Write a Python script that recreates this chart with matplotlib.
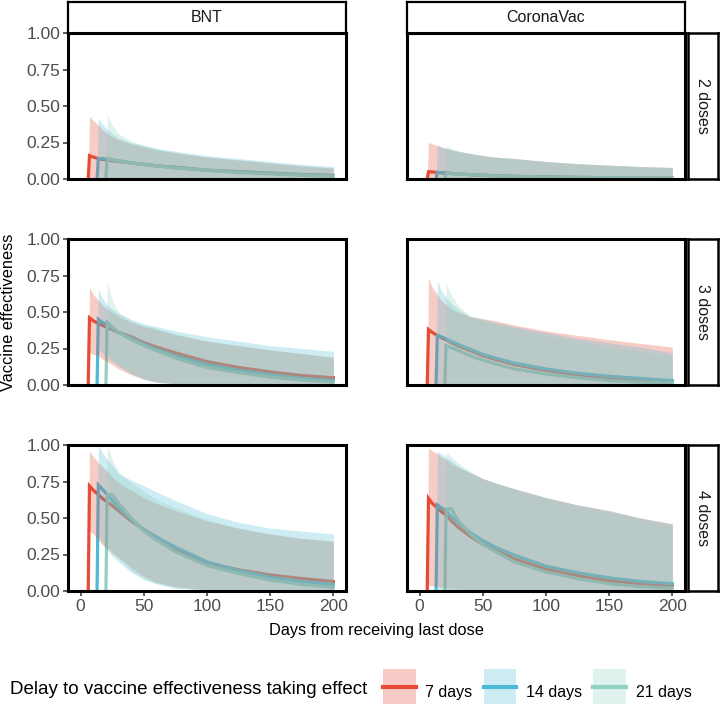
import numpy as np
import matplotlib
matplotlib.use('Agg')
import matplotlib.pyplot as plt
from matplotlib.patches import Patch, Rectangle
from matplotlib.lines import Line2D
from matplotlib.legend_handler import HandlerPatch

plt.rcParams['font.family'] = ['Liberation Sans', 'DejaVu Sans']

na = np.nan
days = [7, 10, 14, 17, 21, 25, 30, 40, 50, 60, 75, 100, 125, 150, 175, 200]
delays = [7, 14, 21]
delay_labels = ['7 days', '14 days', '21 days']
colors = ['#E64B35', '#4DBBD5', '#91D1C2']
vaccines = ['BNT', 'CoronaVac']
doses = ['2 doses', '3 doses', '4 doses']

# rows: 7, 14, 21 day delay
bnt2_mid = [[0.16, 0.15, 0.14, 0.135, 0.13, 0.125, 0.12, 0.11, 0.10, 0.09, 0.08, 0.06, 0.05, 0.04, 0.03, 0.025],
            [na, na, 0.14, 0.14, 0.135, 0.13, 0.125, 0.11, 0.10, 0.09, 0.08, 0.06, 0.05, 0.04, 0.03, 0.022],
            [na, na, na, na, 0.14, 0.135, 0.125, 0.11, 0.10, 0.09, 0.075, 0.06, 0.045, 0.035, 0.025, 0.02]]
bnt2_lo = [[0.0, 0.0, 0.0, 0.0, 0.0, 0.0, 0.0, 0.0, 0.0, 0.0, 0.0, 0.0, 0.0, 0.0, 0.0, 0.0],
           [na, na, 0.0, 0.0, 0.0, 0.0, 0.0, 0.0, 0.0, 0.0, 0.0, 0.0, 0.0, 0.0, 0.0, 0.0],
           [na, na, na, na, 0.0, 0.0, 0.0, 0.0, 0.0, 0.0, 0.0, 0.0, 0.0, 0.0, 0.0, 0.0]]
bnt2_hi = [[0.43, 0.40, 0.37, 0.34, 0.31, 0.29, 0.27, 0.24, 0.22, 0.20, 0.18, 0.15, 0.13, 0.11, 0.09, 0.075],
           [na, na, 0.42, 0.38, 0.34, 0.31, 0.28, 0.25, 0.23, 0.21, 0.19, 0.16, 0.14, 0.12, 0.10, 0.085],
           [na, na, na, na, 0.445, 0.37, 0.31, 0.26, 0.23, 0.21, 0.18, 0.15, 0.13, 0.11, 0.09, 0.075]]

cv2_mid = [[0.05, 0.048, 0.045, 0.043, 0.04, 0.038, 0.035, 0.03, 0.026, 0.022, 0.018, 0.014, 0.011, 0.009, 0.007, 0.005],
           [na, na, 0.045, 0.043, 0.04, 0.038, 0.035, 0.03, 0.026, 0.022, 0.018, 0.014, 0.011, 0.009, 0.007, 0.005],
           [na, na, na, na, 0.04, 0.038, 0.035, 0.03, 0.025, 0.021, 0.017, 0.013, 0.01, 0.008, 0.006, 0.005]]
cv2_lo = [[0.0, 0.0, 0.0, 0.0, 0.0, 0.0, 0.0, 0.0, 0.0, 0.0, 0.0, 0.0, 0.0, 0.0, 0.0, 0.0],
          [na, na, 0.0, 0.0, 0.0, 0.0, 0.0, 0.0, 0.0, 0.0, 0.0, 0.0, 0.0, 0.0, 0.0, 0.0],
          [na, na, na, na, 0.0, 0.0, 0.0, 0.0, 0.0, 0.0, 0.0, 0.0, 0.0, 0.0, 0.0, 0.0]]
cv2_hi = [[0.25, 0.24, 0.23, 0.22, 0.21, 0.20, 0.19, 0.175, 0.16, 0.15, 0.14, 0.12, 0.105, 0.095, 0.085, 0.08],
          [na, na, 0.233, 0.22, 0.21, 0.20, 0.19, 0.175, 0.16, 0.15, 0.14, 0.12, 0.105, 0.095, 0.085, 0.078],
          [na, na, na, na, 0.225, 0.21, 0.195, 0.175, 0.16, 0.15, 0.14, 0.12, 0.105, 0.095, 0.085, 0.078]]

bnt3_mid = [[0.46, 0.44, 0.42, 0.41, 0.395, 0.38, 0.36, 0.33, 0.29, 0.26, 0.22, 0.16, 0.12, 0.09, 0.065, 0.05],
            [na, na, 0.45, 0.43, 0.41, 0.39, 0.36, 0.32, 0.28, 0.245, 0.20, 0.14, 0.10, 0.07, 0.045, 0.03],
            [na, na, na, na, 0.43, 0.40, 0.36, 0.31, 0.27, 0.235, 0.185, 0.12, 0.085, 0.055, 0.035, 0.02]]
bnt3_lo = [[0.22, 0.21, 0.20, 0.18, 0.16, 0.14, 0.11, 0.07, 0.04, 0.02, 0.01, 0.0, 0.0, 0.0, 0.0, 0.0],
           [na, na, 0.25, 0.22, 0.19, 0.16, 0.13, 0.08, 0.04, 0.02, 0.01, 0.0, 0.0, 0.0, 0.0, 0.0],
           [na, na, na, na, 0.22, 0.18, 0.14, 0.08, 0.04, 0.02, 0.005, 0.0, 0.0, 0.0, 0.0, 0.0]]
bnt3_hi = [[0.67, 0.62, 0.58, 0.55, 0.52, 0.50, 0.47, 0.43, 0.40, 0.38, 0.345, 0.30, 0.27, 0.24, 0.215, 0.19],
           [na, na, 0.66, 0.60, 0.55, 0.52, 0.49, 0.45, 0.42, 0.40, 0.37, 0.33, 0.30, 0.27, 0.25, 0.23],
           [na, na, na, na, 0.71, 0.58, 0.50, 0.44, 0.41, 0.39, 0.35, 0.30, 0.27, 0.24, 0.215, 0.19]]

cv3_mid = [[0.38, 0.36, 0.34, 0.325, 0.31, 0.29, 0.27, 0.235, 0.20, 0.175, 0.14, 0.10, 0.07, 0.05, 0.035, 0.025],
           [na, na, 0.34, 0.33, 0.315, 0.30, 0.28, 0.245, 0.21, 0.185, 0.15, 0.11, 0.08, 0.06, 0.045, 0.03],
           [na, na, na, na, 0.27, 0.255, 0.24, 0.20, 0.17, 0.145, 0.11, 0.075, 0.05, 0.03, 0.02, 0.012]]
cv3_lo = [[0.0, 0.0, 0.0, 0.0, 0.0, 0.0, 0.0, 0.0, 0.0, 0.0, 0.0, 0.0, 0.0, 0.0, 0.0, 0.0],
          [na, na, 0.0, 0.0, 0.0, 0.0, 0.0, 0.0, 0.0, 0.0, 0.0, 0.0, 0.0, 0.0, 0.0, 0.0],
          [na, na, na, na, 0.0, 0.0, 0.0, 0.0, 0.0, 0.0, 0.0, 0.0, 0.0, 0.0, 0.0, 0.0]]
cv3_hi = [[0.73, 0.67, 0.62, 0.58, 0.55, 0.52, 0.50, 0.47, 0.455, 0.44, 0.41, 0.37, 0.34, 0.31, 0.285, 0.26],
          [na, na, 0.715, 0.65, 0.60, 0.56, 0.52, 0.47, 0.45, 0.43, 0.40, 0.36, 0.32, 0.29, 0.26, 0.22],
          [na, na, na, na, 0.69, 0.62, 0.55, 0.47, 0.44, 0.42, 0.39, 0.34, 0.30, 0.26, 0.23, 0.20]]

bnt4_mid = [[0.72, 0.69, 0.66, 0.635, 0.61, 0.585, 0.55, 0.48, 0.42, 0.36, 0.29, 0.19, 0.145, 0.11, 0.085, 0.065],
            [na, na, 0.727, 0.70, 0.66, 0.62, 0.57, 0.49, 0.42, 0.37, 0.30, 0.20, 0.14, 0.095, 0.065, 0.045],
            [na, na, na, na, 0.66, 0.66, 0.60, 0.50, 0.41, 0.35, 0.27, 0.175, 0.12, 0.075, 0.045, 0.025]]
bnt4_lo = [[0.41, 0.39, 0.35, 0.32, 0.29, 0.26, 0.23, 0.16, 0.10, 0.06, 0.03, 0.01, 0.0, 0.0, 0.0, 0.0],
           [na, na, 0.38, 0.33, 0.28, 0.24, 0.20, 0.13, 0.08, 0.05, 0.02, 0.005, 0.0, 0.0, 0.0, 0.0],
           [na, na, na, na, 0.32, 0.27, 0.22, 0.14, 0.08, 0.05, 0.02, 0.005, 0.0, 0.0, 0.0, 0.0]]
bnt4_hi = [[0.96, 0.92, 0.88, 0.85, 0.82, 0.78, 0.74, 0.69, 0.64, 0.60, 0.55, 0.48, 0.43, 0.39, 0.36, 0.34],
           [na, na, 1.0, 0.95, 0.90, 0.86, 0.80, 0.76, 0.72, 0.68, 0.62, 0.53, 0.47, 0.43, 0.41, 0.39],
           [na, na, na, na, 1.0, 0.90, 0.82, 0.74, 0.68, 0.63, 0.57, 0.49, 0.43, 0.39, 0.36, 0.34]]

cv4_mid = [[0.635, 0.60, 0.57, 0.545, 0.52, 0.48, 0.44, 0.375, 0.32, 0.28, 0.22, 0.15, 0.105, 0.07, 0.05, 0.035],
           [na, na, 0.59, 0.57, 0.55, 0.51, 0.47, 0.40, 0.345, 0.30, 0.245, 0.17, 0.125, 0.09, 0.065, 0.05],
           [na, na, na, na, 0.56, 0.565, 0.49, 0.39, 0.32, 0.27, 0.20, 0.13, 0.085, 0.05, 0.03, 0.02]]
cv4_lo = [[0.04, 0.035, 0.03, 0.025, 0.02, 0.02, 0.015, 0.01, 0.005, 0.0, 0.0, 0.0, 0.0, 0.0, 0.0, 0.0],
          [na, na, 0.0, 0.0, 0.0, 0.0, 0.0, 0.0, 0.0, 0.0, 0.0, 0.0, 0.0, 0.0, 0.0, 0.0],
          [na, na, na, na, 0.0, 0.0, 0.0, 0.0, 0.0, 0.0, 0.0, 0.0, 0.0, 0.0, 0.0, 0.0]]
cv4_hi = [[0.98, 0.96, 0.94, 0.92, 0.90, 0.87, 0.85, 0.81, 0.77, 0.74, 0.70, 0.64, 0.59, 0.55, 0.50, 0.46],
          [na, na, 0.96, 0.94, 0.92, 0.89, 0.86, 0.81, 0.77, 0.74, 0.70, 0.64, 0.59, 0.55, 0.50, 0.46],
          [na, na, na, na, 0.95, 0.92, 0.88, 0.82, 0.77, 0.74, 0.70, 0.64, 0.58, 0.54, 0.49, 0.44]]

panels = {
    (0, 0): (bnt2_mid, bnt2_lo, bnt2_hi), (0, 1): (cv2_mid, cv2_lo, cv2_hi),
    (1, 0): (bnt3_mid, bnt3_lo, bnt3_hi), (1, 1): (cv3_mid, cv3_lo, cv3_hi),
    (2, 0): (bnt4_mid, bnt4_lo, bnt4_hi), (2, 1): (cv4_mid, cv4_lo, cv4_hi),
}

W, H = 720, 707
fig = plt.figure(figsize=(7.2, 7.07), dpi=100)

col_left = [68, 407]
col_w = 278
row_top = [33, 239, 445]
row_h = 146
alpha = 0.28

def px_axes(x0, y0, w, h):
    return fig.add_axes([x0 / W, 1 - (y0 + h) / H, w / W, h / H])

for (r, c), (mid, lo, hi) in panels.items():
    ax = px_axes(col_left[c], row_top[r], col_w, row_h)
    for i, d in enumerate(delays):
        x = np.array([d - 1] + days, dtype=float)
        ym = np.array([0.0] + mid[i])
        keep = ~np.isnan(ym)
        ax.plot(x[keep], ym[keep], color=colors[i], lw=2.3, zorder=2,
                solid_joinstyle='miter')
    for i, d in enumerate(delays):
        x = np.array([d - 1] + days, dtype=float)
        yl = np.array([0.0] + lo[i])
        yh = np.array([0.0] + hi[i])
        keep = ~np.isnan(yh)
        ax.fill_between(x[keep], yl[keep], yh[keep], color=colors[i],
                        alpha=alpha, lw=0, zorder=3)
    ax.set_xlim(-10, 210)
    ax.set_ylim(0, 1)
    ax.set_xticks([0, 50, 100, 150, 200])
    ax.set_yticks([0, 0.25, 0.5, 0.75, 1.0])
    ax.set_yticklabels(['0.00', '0.25', '0.50', '0.75', '1.00'])
    for s in ax.spines.values():
        s.set_linewidth(2.2)
        s.set_color('black')
        s.set_zorder(5)
    ax.tick_params(length=3.5, width=1.1, color='#333333', labelcolor='#4D4D4D',
                   labelsize=12.5, pad=2,
                   left=(c == 0), labelleft=(c == 0),
                   bottom=(r == 2), labelbottom=(r == 2))

    # right strip
    if c == 1:
        sx = px_axes(688, row_top[r], 30, row_h)
        sx.set_xticks([])
        sx.set_yticks([])
        for s in sx.spines.values():
            s.set_linewidth(1.8)
        sx.text(0.5, 0.5, doses[r], rotation=270, ha='center', va='center',
                fontsize=11.5, color='#1A1A1A', transform=sx.transAxes)

# top strips
for c in range(2):
    st = px_axes(col_left[c], 2, col_w, 31)
    st.set_xticks([])
    st.set_yticks([])
    for s in st.spines.values():
        s.set_linewidth(1.6)
    st.spines['bottom'].set_linewidth(2.2)
    st.text(0.5, 0.5, vaccines[c], ha='center', va='center', fontsize=11.5,
            color='#1A1A1A', transform=st.transAxes)

fig.text(376.5 / W, 1 - 631 / H, 'Days from receiving last dose', ha='center',
         va='center', fontsize=11.8)
fig.text(9 / W, 1 - 312 / H, 'Vaccine effectiveness', rotation=90, ha='center',
         va='center', fontsize=11.8)


def key_patch(legend, orig_handle, xdescent, ydescent, width, height, fontsize):
    # square key centred on the key line
    side = height + ydescent * 0.4
    return Rectangle((-xdescent, (height - ydescent) / 2 - side / 2), width, side)


handles = [(Patch(facecolor=col, alpha=alpha, lw=0), Line2D([], [], color=col, lw=3))
           for col in colors]
fig.text(10 / W, 1 - 689 / H, 'Delay to vaccine effectiveness taking effect',
         ha='left', va='center', fontsize=13.5)
fig.legend(handles, delay_labels, loc='center left', ncol=3, frameon=False,
           bbox_to_anchor=(383 / W, 1 - 692 / H), fontsize=11.5,
           handlelength=2.05, handleheight=2.6, handletextpad=0.6,
           columnspacing=0.7, borderaxespad=0, borderpad=0,
           handler_map={Patch: HandlerPatch(patch_func=key_patch)})

fig.savefig('out.png', dpi=100)
